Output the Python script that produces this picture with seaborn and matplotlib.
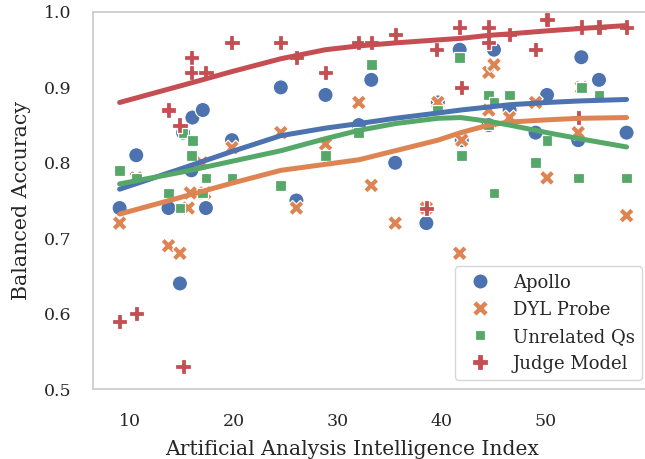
import pandas as pd
import seaborn as sns
import matplotlib.pyplot as plt

methods = ["Apollo", "DYL Probe", "Unrelated Qs", "Judge Model"]

# scatter points: (intelligence index, balanced accuracy)
apollo_x = [9.0, 10.6, 13.7, 14.8, 15.1, 15.9, 16.0, 17.0, 17.3, 19.8, 24.5, 26.0, 28.8, 32.0, 33.2,
            35.5, 38.5, 39.6, 41.7, 41.9, 44.5, 45.0, 46.5, 49.0, 50.1, 53.1, 53.4, 55.1, 57.75]
apollo_acc = [0.74, 0.81, 0.74, 0.64, 0.84, 0.79, 0.86, 0.87, 0.74, 0.83, 0.90, 0.75, 0.89, 0.85, 0.91,
              0.80, 0.72, 0.88, 0.95, 0.83, 0.85, 0.95, 0.87, 0.84, 0.89, 0.83, 0.94, 0.91, 0.84]

dyl_x = [9.0, 10.6, 13.7, 14.8, 15.6, 15.8, 16.9, 17.2, 19.8, 24.5, 26.0, 28.8, 32.0, 33.2, 35.5,
         38.5, 39.6, 41.7, 41.9, 44.5, 44.5, 45.0, 46.5, 49.0, 50.1, 53.1, 53.4, 57.75]
dyl_acc = [0.72, 0.78, 0.69, 0.68, 0.74, 0.76, 0.80, 0.76, 0.82, 0.84, 0.74, 0.825, 0.88, 0.77, 0.72,
           0.74, 0.88, 0.68, 0.83, 0.92, 0.87, 0.93, 0.86, 0.88, 0.78, 0.84, 0.90, 0.73]

unrel_x = [9.0, 10.6, 13.7, 14.8, 15.1, 15.9, 16.0, 17.0, 17.3, 19.8, 24.5, 28.8, 32.0, 33.2, 39.6,
           41.7, 41.9, 44.5, 44.5, 45.0, 45.0, 46.5, 49.0, 50.1, 53.1, 53.4, 55.1, 57.75]
unrel_acc = [0.79, 0.78, 0.76, 0.74, 0.84, 0.81, 0.83, 0.76, 0.78, 0.78, 0.77, 0.81, 0.84, 0.93, 0.87,
             0.94, 0.81, 0.89, 0.85, 0.88, 0.76, 0.89, 0.80, 0.83, 0.78, 0.90, 0.89, 0.78]

judge_x = [9.0, 10.6, 13.7, 14.8, 15.1, 15.9, 15.9, 17.3, 19.8, 24.5, 26.0, 28.8, 32.0, 33.2, 35.5,
           38.5, 39.5, 41.7, 41.9, 44.5, 44.5, 46.5, 49.0, 50.1, 53.1, 53.4, 55.1, 57.75]
judge_acc = [0.59, 0.60, 0.87, 0.85, 0.53, 0.94, 0.92, 0.92, 0.96, 0.96, 0.94, 0.92, 0.96, 0.96, 0.97,
             0.74, 0.95, 0.98, 0.90, 0.98, 0.96, 0.97, 0.95, 0.99, 0.86, 0.98, 0.98, 0.98]

# smoothed trend per method
trend_x = [9.0, 15.1, 19.8, 24.5, 28.8, 32.0, 35.5, 39.6, 41.8, 44.5, 46.5, 50.1, 53.2, 57.75]
apollo_trend = [0.765, 0.793, 0.815, 0.836, 0.846, 0.852, 0.859, 0.866, 0.870, 0.874, 0.877, 0.880, 0.882, 0.884]
dyl_trend = [0.732, 0.755, 0.773, 0.790, 0.798, 0.804, 0.816, 0.830, 0.840, 0.850, 0.854, 0.857, 0.859, 0.860]
unrel_trend = [0.772, 0.788, 0.802, 0.816, 0.832, 0.843, 0.852, 0.859, 0.860, 0.855, 0.850, 0.840, 0.832, 0.821]
judge_trend = [0.880, 0.903, 0.921, 0.938, 0.950, 0.955, 0.959, 0.963, 0.965, 0.969, 0.971, 0.975, 0.978, 0.982]

points = pd.concat([
    pd.DataFrame({"index": apollo_x, "acc": apollo_acc, "method": "Apollo"}),
    pd.DataFrame({"index": dyl_x, "acc": dyl_acc, "method": "DYL Probe"}),
    pd.DataFrame({"index": unrel_x, "acc": unrel_acc, "method": "Unrelated Qs"}),
    pd.DataFrame({"index": judge_x, "acc": judge_acc, "method": "Judge Model"}),
], ignore_index=True)

trends = pd.concat([
    pd.DataFrame({"index": trend_x, "acc": vals, "method": m})
    for m, vals in zip(methods, [apollo_trend, dyl_trend, unrel_trend, judge_trend])
], ignore_index=True)

sns.set_theme(style="whitegrid", rc={"axes.grid": False})
plt.rcParams["font.family"] = ["DejaVu Serif"]

fig = plt.figure(figsize=(6.45, 4.59), dpi=100)
ax = fig.add_axes([93 / 645, 70 / 459, 558 / 645, 377 / 459])

sns.scatterplot(data=points, x="index", y="acc", hue="method", style="method",
                hue_order=methods, style_order=methods, palette="deep", s=120, ax=ax)
sns.lineplot(data=trends, x="index", y="acc", hue="method", hue_order=methods,
             palette="deep", linewidth=3.6, legend=False, ax=ax, solid_capstyle="round")

ax.set_xlim(6.44, 60.1)
ax.set_ylim(0.5, 1.0)
ax.set_xticks([10, 20, 30, 40, 50])
ax.set_yticks([0.5, 0.6, 0.7, 0.8, 0.9, 1.0])
ax.tick_params(axis="both", length=0, labelsize=12.5)
ax.tick_params(axis="x", pad=17)
ax.tick_params(axis="y", pad=15.5)
ax.set_xlabel("Artificial Analysis Intelligence Index", fontsize=14.6)
ax.set_ylabel("Balanced Accuracy", fontsize=14.8, labelpad=9)
ax.xaxis.set_label_coords(0.464, -0.135)

handles, labels = ax.get_legend_handles_labels()
ax.legend(handles, labels, loc="lower right", fontsize=13, frameon=True)

fig.savefig("out.png", dpi=100)
